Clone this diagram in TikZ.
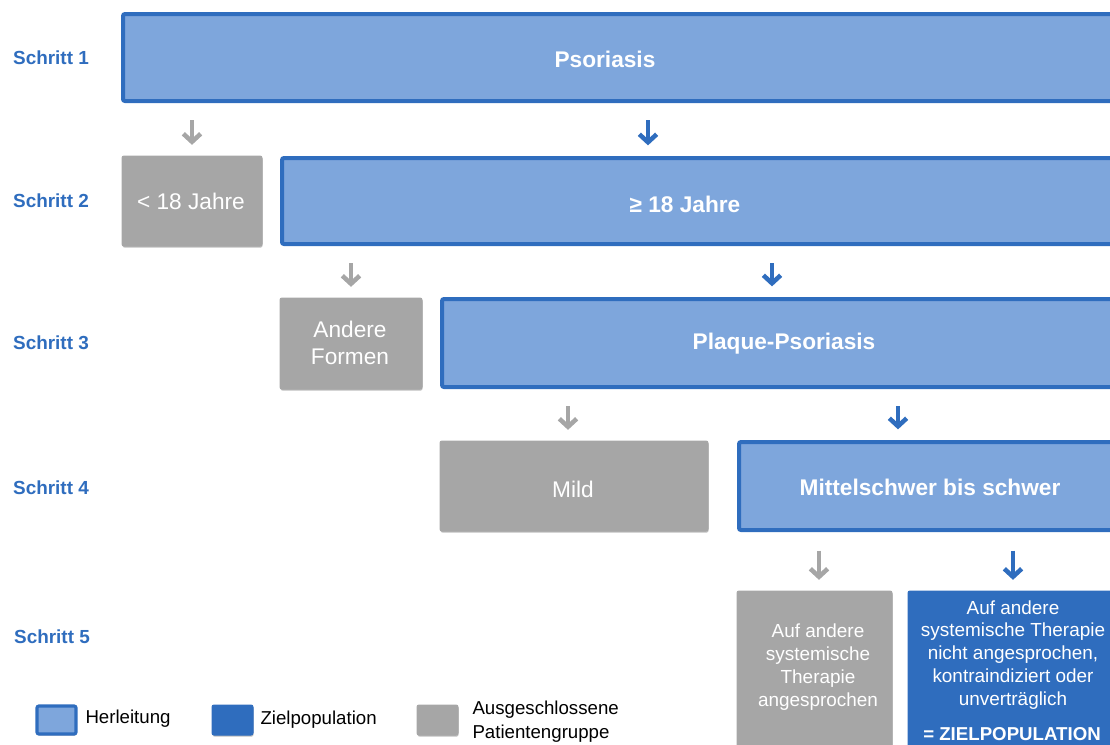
\documentclass[tikz,border=0pt]{standalone}
\usepackage{fontspec}
\setmainfont{Liberation Sans}
\usetikzlibrary{arrows.meta,fit,shadows}

\definecolor{herlfill}{RGB}{126,166,220}
\definecolor{zielblue}{RGB}{47,109,190}
\definecolor{ausgrau}{RGB}{166,166,166}

\tikzset{every picture/.style={line width=0.75pt}}
\tikzset{
  boxshadow/.style={drop shadow={shadow xshift=0.4pt, shadow yshift=-1.2pt, opacity=0.25, fill=black}},
  herl/.style={draw=zielblue, fill=herlfill, line width=3pt, rounded corners=1.5pt, inner sep=0pt, boxshadow},
  ziel/.style={draw=zielblue, fill=zielblue, line width=0.75pt, rounded corners=1.5pt, inner sep=0pt, boxshadow},
  ausg/.style={draw=ausgrau, fill=ausgrau, line width=0.75pt, rounded corners=1.5pt, inner sep=0pt, boxshadow},
  steplabel/.style={text=zielblue, font=\fontsize{14.2}{17}\selectfont\bfseries, inner sep=0pt},
  boldtxt/.style={text=white, font=\fontsize{17}{20}\selectfont\bfseries, inner sep=0pt},
  plaintxt/.style={text=white, font=\fontsize{17}{20.5}\selectfont, align=center, inner sep=0pt},
  smalltxt/.style={text=white, font=\fontsize{14.2}{17.2}\selectfont, align=center, inner sep=0pt},
  legtxt/.style={text=black, font=\fontsize{14}{18}\selectfont, align=left, anchor=west, inner sep=0pt},
  bluearr/.style={draw=zielblue, line width=3.4pt, -{Straight Barb[length=6pt,width=13pt]}, shorten <=12.75pt, shorten >=8pt},
  grayarr/.style={bluearr, draw=ausgrau}
}

\begin{document}
\begin{tikzpicture}[x=0.75pt,y=0.75pt,yscale=-1,xscale=1]
\clip (0,0) rectangle (1110,744);

% Schritt labels
\node[steplabel] (s1) at (51,58) {Schritt 1};
\node[steplabel] (s2) at (51,201) {Schritt 2};
\node[steplabel] (s3) at (51,343) {Schritt 3};
\node[steplabel] (s4) at (51,488) {Schritt 4};
\node[steplabel] (s5) at (52,637) {Schritt 5};

% Schritt 1
\node[herl, fit={(123,14) (1130,101)}] (psoriasis) {};
\node[boldtxt] (psoriasistxt) at (605,59) {Psoriasis};

% Schritt 2
\node[ausg, fit={(122,156) (262,246)}] (young) {};
\node[plaintxt] (youngtxt) at (191,201) {< 18 Jahre};
\node[herl, fit={(282,158) (1130,244)}] (adult) {};
\node[boldtxt] (adulttxt) at (685,204) {≥ 18 Jahre};

% Schritt 3
\node[ausg, fit={(280,298) (422,389)}] (andere) {};
\node[plaintxt] (anderetxt) at (350,343) {Andere\\Formen};
\node[herl, fit={(442,299) (1130,387)}] (plaque) {};
\node[boldtxt] (plaquetxt) at (784,344) {Plaque-Psoriasis};

% Schritt 4
\node[ausg, fit={(440,441) (708,531)}] (mild) {};
\node[plaintxt] (mildtxt) at (573,489) {Mild};
\node[herl, fit={(739,442) (1130,530)}] (schwer) {};
\node[boldtxt] (schwertxt) at (930,487) {Mittelschwer bis schwer};

% Schritt 5
\node[ausg, fit={(737,591) (892,770)}] (ansprech) {};
\node[smalltxt] (ansprechtxt) at (818,667) {Auf andere\\systemische\\Therapie\\angesprochen};
\node[ziel, fit={(908,591) (1130,770)}] (zielpop) {};
\node[smalltxt] (zielpoptxt) at (1013,655) {Auf andere\\systemische Therapie\\nicht angesprochen,\\kontraindiziert oder\\unverträglich};
\node[text=white, font=\fontsize{14}{16}\selectfont\bfseries, inner sep=0pt] (zieltxt) at (1012,734) {= ZIELPOPULATION};

% arrows
\draw[grayarr] (psoriasis.south -| young.north) -- (young.north);
\draw[bluearr] (psoriasis.south -| 648,0) -- (adult.north -| 648,0);
\draw[grayarr] (adult.south -| andere.north) -- (andere.north);
\draw[bluearr] (adult.south -| 772,0) -- (plaque.north -| 772,0);
\draw[grayarr] (plaque.south -| 568,0) -- (mild.north -| 568,0);
\draw[bluearr] (plaque.south -| 898,0) -- (schwer.north -| 898,0);
\draw[grayarr, shorten <=14pt] (schwer.south -| 819,0) -- (ansprech.north -| 819,0);
\draw[bluearr, shorten <=14pt] (schwer.south -| 1013,0) -- (zielpop.north -| 1013,0);

% legend
\node[herl, line width=2.4pt, fit={(37,706) (76,734)}] (legherl) {};
\node[legtxt] (legherltxt) at (85,719) {Herleitung};
\node[ziel, fit={(212,705) (253,735)}] (legziel) {};
\node[legtxt] (legzieltxt) at (260,720) {Zielpopulation};
\node[ausg, fit={(417,705) (458,735)}] (legausg) {};
\node[legtxt] (legausgtxt) at (472,722) {Ausgeschlossene\\Patientengruppe};

\end{tikzpicture}
\end{document}
